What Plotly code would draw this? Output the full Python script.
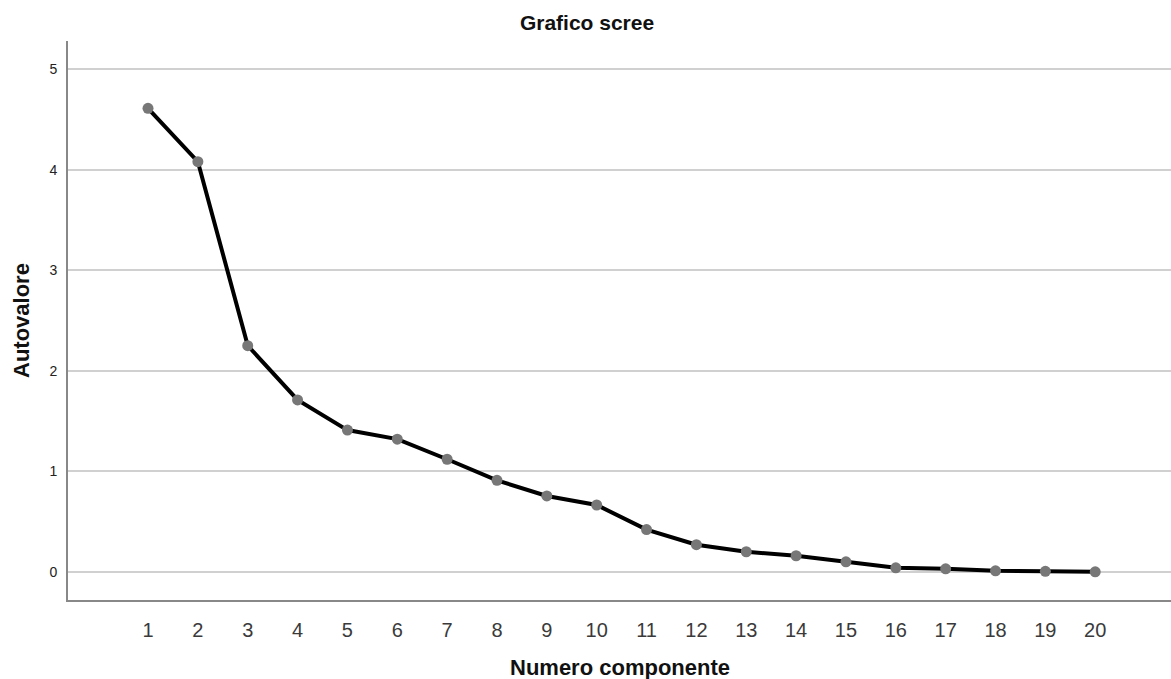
import plotly.graph_objects as go

components = list(range(1, 21))
eigenvalues = [4.61, 4.08, 2.25, 1.71, 1.41, 1.32, 1.12, 0.91, 0.755, 0.665,
               0.42, 0.27, 0.20, 0.16, 0.10, 0.04, 0.03, 0.01, 0.005, 0.0]
y_ticks = [0, 1, 2, 3, 4, 5]

fig = go.Figure()
fig.add_trace(go.Scatter(
    x=components, y=eigenvalues, mode="lines+markers",
    line=dict(color="black", width=4),
    marker=dict(color="#777777", size=11),
    hoverinfo="x+y", showlegend=False,
))

fig.update_layout(
    width=1171, height=679,
    margin=dict(l=68, r=0, t=41, b=79),
    paper_bgcolor="white", plot_bgcolor="white",
    font=dict(family="Liberation Sans, Arial, sans-serif", color="#222222"),
    title=dict(text="<b>Grafico scree</b>", x=587 / 1171, xanchor="center",
               y=1 - 23 / 679, yanchor="middle", yref="container",
               font=dict(size=21, color="#111111")),
    xaxis=dict(
        range=[-0.605, 21.52], tickmode="array", tickvals=components,
        ticktext=[str(c) for c in components], showgrid=False, zeroline=False,
        showline=True, linecolor="#888888", linewidth=2,
        ticks="", tickfont=dict(size=20, color="#3a3a3a"),
        ticklabelstandoff=11,
    ),
    yaxis=dict(
        range=[-0.28, 5.28], tickmode="array", tickvals=y_ticks,
        showgrid=True, gridcolor="#d0d0d0", gridwidth=1.5, zeroline=False,
        showline=True, linecolor="#888888", linewidth=2,
        ticks="", tickfont=dict(size=14, color="#222222"),
        ticklabelstandoff=6,
    ),
    annotations=[
        dict(text="<b>Numero componente</b>", xref="paper", yref="paper",
             x=0.5, y=-(667 - 600) / 559, xanchor="center", yanchor="middle",
             showarrow=False, font=dict(size=22, color="#111111")),
        dict(text="<b>Autovalore</b>", xref="paper", yref="paper",
             x=-(68 - 21) / 1103, y=(600 - 320) / 559, xanchor="center",
             yanchor="middle", textangle=-90, showarrow=False,
             font=dict(size=22, color="#111111")),
    ],
)

fig.write_html("out.html", config={"displayModeBar": False},
               post_script="document.body.style.margin='0';document.body.style.overflow='hidden';")
